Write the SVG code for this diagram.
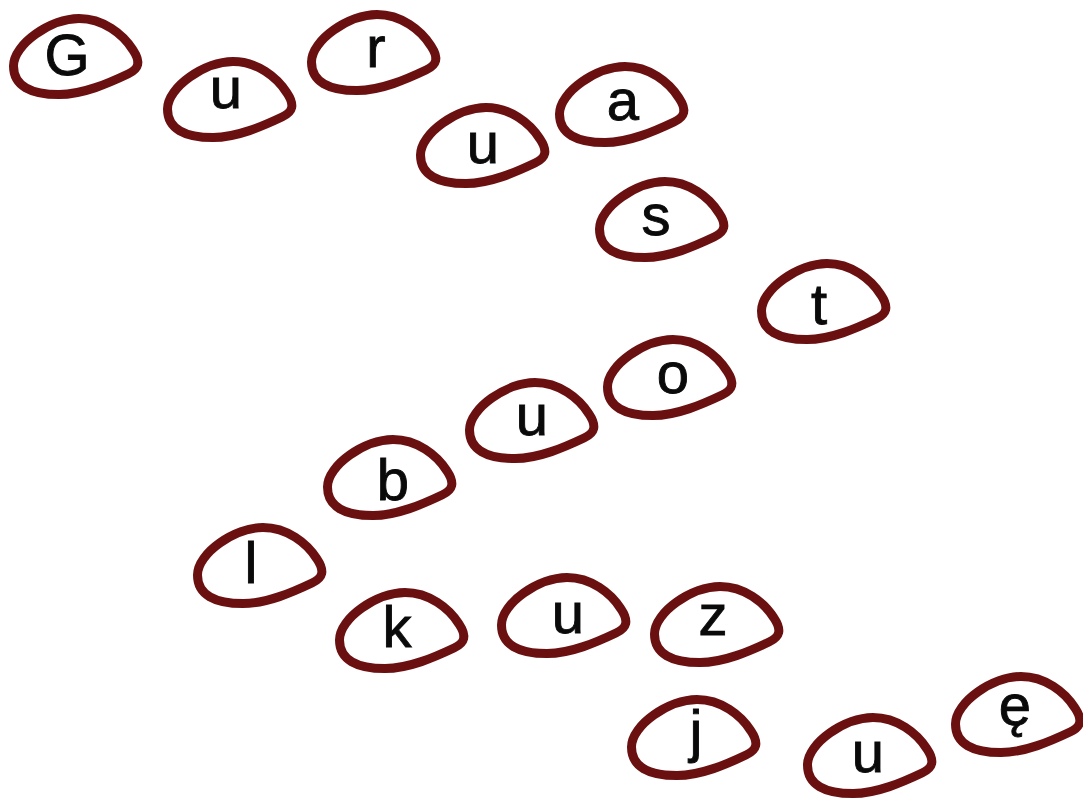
<svg xmlns="http://www.w3.org/2000/svg" width="1083" height="798" viewBox="0 0 1083 798">
<style>
.blob{fill:#ffffff;stroke:#6b1010;stroke-width:9;stroke-linejoin:round}
.lbl{font-family:"Liberation Sans",Arial,sans-serif;font-size:58px;fill:#0a0a0a;stroke:#0a0a0a;stroke-width:0.9;text-anchor:middle}
</style>
<defs>
<path id="blob" d="M 4.5,52 C 4.5,30 42,4.5 70,4.5 C 94,4.5 114,20 124,36 C 132,48 130,55 119,60 C 100,69 74,80.5 50,80.5 C 22,80.5 4.5,72 4.5,52 Z"/>
</defs>
<rect width="1083" height="798" fill="#ffffff"/>
<g id="connectors"/>
<g id="n1"><use href="#blob" class="blob" x="9" y="14"/><text class="lbl" x="67" y="75">G</text></g>
<g id="n2"><use href="#blob" class="blob" x="163" y="57"/><text class="lbl" x="226" y="108">u</text></g>
<g id="n3"><use href="#blob" class="blob" x="307" y="10"/><text class="lbl" x="376" y="67">r</text></g>
<g id="n4"><use href="#blob" class="blob" x="416" y="103"/><text class="lbl" x="483" y="163">u</text></g>
<g id="n5"><use href="#blob" class="blob" x="555" y="62"/><text class="lbl" x="623" y="120">a</text></g>
<g id="n6"><use href="#blob" class="blob" x="595" y="177"/><text class="lbl" x="656" y="235">s</text></g>
<g id="n7"><use href="#blob" class="blob" x="757" y="259"/><text class="lbl" x="819" y="324">t</text></g>
<g id="n8"><use href="#blob" class="blob" x="603" y="335"/><text class="lbl" x="673" y="393">o</text></g>
<g id="n9"><use href="#blob" class="blob" x="465" y="378"/><text class="lbl" x="532" y="435">u</text></g>
<g id="n10"><use href="#blob" class="blob" x="323" y="435"/><text class="lbl" x="393" y="500">b</text></g>
<g id="n11"><use href="#blob" class="blob" x="193" y="523"/><text class="lbl" x="251" y="583">l</text></g>
<g id="n12"><use href="#blob" class="blob" x="335" y="588"/><text class="lbl" x="397" y="647">k</text></g>
<g id="n13"><use href="#blob" class="blob" x="497" y="573"/><text class="lbl" x="568" y="633">u</text></g>
<g id="n14"><use href="#blob" class="blob" x="650" y="582"/><text class="lbl" x="713" y="635">z</text></g>
<g id="n15"><use href="#blob" class="blob" x="627" y="695"/><text class="lbl" x="696" y="751">j</text></g>
<g id="n16"><use href="#blob" class="blob" x="803" y="713"/><text class="lbl" x="868" y="772">u</text></g>
<g id="n17"><use href="#blob" class="blob" x="951" y="672"/><text class="lbl" x="1015" y="725">ę</text></g>
</svg>
